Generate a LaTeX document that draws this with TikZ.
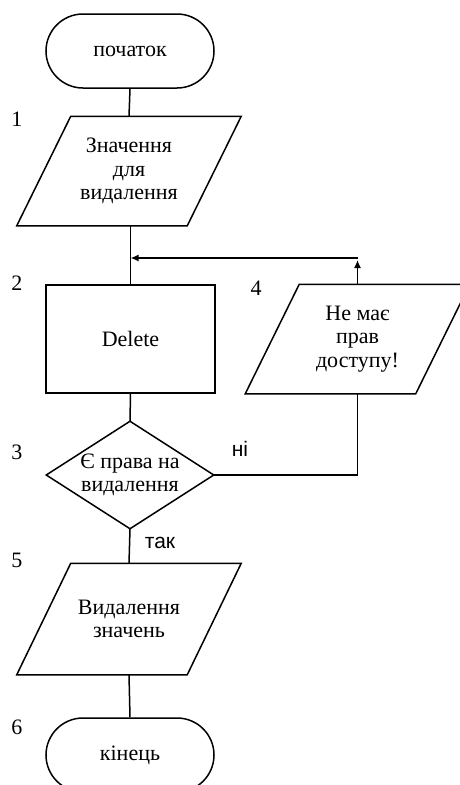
\documentclass[tikz,border=0pt]{standalone}
\usepackage{fontspec}
\setmainfont{Liberation Serif}
\newfontfamily\labelsans{Liberation Sans}
\usetikzlibrary{arrows.meta}

\tikzset{
  base/.style={line width=1.5pt, font=\fontsize{22}{23.3}\selectfont},
  terminal/.style={draw, rounded corners=37pt, minimum width=168pt, minimum height=74pt, inner sep=0pt, align=center},
  procbox/.style={draw, minimum width=169pt, minimum height=108pt, inner sep=0pt, align=center},
  slot/.style={minimum width=223pt, minimum height=108pt, inner sep=0pt, align=center},
  numlabel/.style={inner sep=0pt},
  branch/.style={inner sep=0pt, font=\labelsans\fontsize{21}{23}\selectfont},
  flow/.style={line width=1.5pt},
  arrowed/.style={flow, -{Latex[length=8pt, width=7pt]}}
}

\begin{document}
\begin{tikzpicture}[x=1pt, y=-1pt, base]
\useasboundingbox (0,0) rectangle (459,785);

% blocks
\node[terminal] (start) at (130,51) {початок};
\node[slot] (input) at (129,171) {Значення\\для\\видалення};
\node[procbox] (del) at (130.5,339) {Delete};
\node[slot, minimum width=166pt, minimum height=106pt] (check) at (130,475)
  {\fontsize{22}{26}\selectfont Є права на\\видалення};
\node[slot] (noaccess) at (357.5,339) {Не має\\прав\\доступу!};
\node[slot, minimum height=110pt] (remove) at (129,619) {Видалення\\значень};
\node[terminal] (stop) at (130,755) {кінець};

% parallelogram and diamond outlines
\foreach \p in {input, noaccess, remove}
  \draw[flow] ([xshift=54pt]\p.north west) -- (\p.north east)
    -- ([xshift=-54pt]\p.south east) -- (\p.south west) -- cycle;
\draw[flow] (check.north) -- (check.east) -- (check.south) -- (check.west) -- cycle;

% step numbers
\node[numlabel] (n1) at (17,119) {1};
\node[numlabel] (n2) at (17,283) {2};
\node[numlabel] (n3) at (17,452) {3};
\node[numlabel] (n4) at (256,288) {4};
\node[numlabel] (n5) at (17,560) {5};
\node[numlabel] (n6) at (17,727) {6};

% branch labels
\node[branch] (no) at (240,449) {ні};
\node[branch] (yes) at (160,543) {так};

% main flow
\coordinate (join) at (del.north |- 0,258);
\coordinate (back) at (noaccess.north |- 0,258);
\coordinate (backtip) at (noaccess.north |- 0,260);
\draw[flow] (start.south) -- (input.north);
\draw[flow] ([xshift=1.5pt]input.south) -- (del.north);
\draw[flow] (del.south) -- (check.north);
\draw[flow] (check.south) -- (remove.north);
\draw[flow] (remove.south) -- (stop.north);

% no-access branch and return
\draw[flow] (check.east) -| (noaccess.south);
\draw[arrowed] (noaccess.north) -- (backtip);
\draw[arrowed] (back) -- (join);
\end{tikzpicture}
\end{document}
